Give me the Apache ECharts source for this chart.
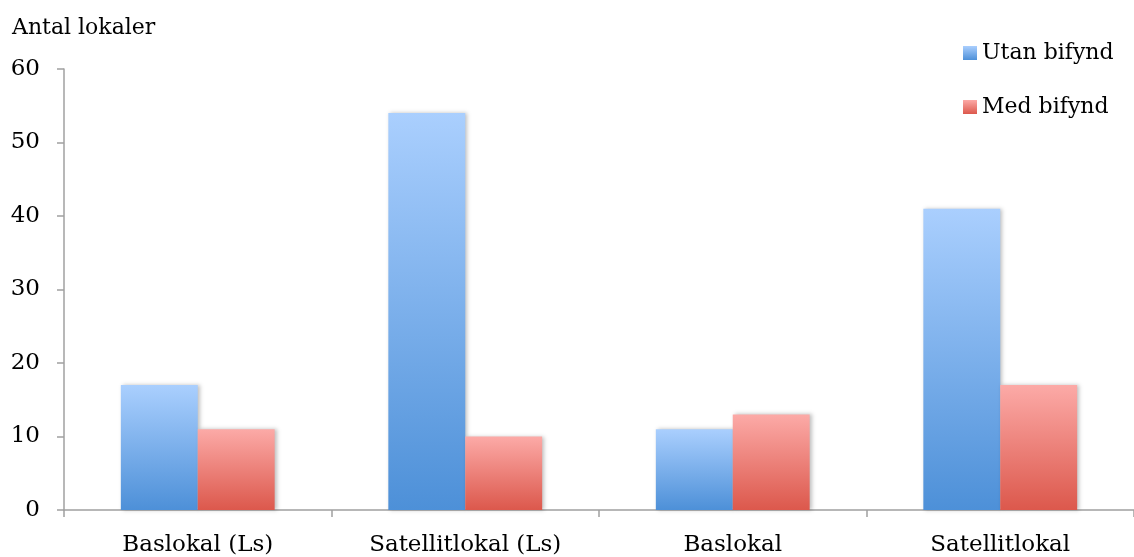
<!DOCTYPE html>
<html><head><meta charset="utf-8">
<script src="https://cdn.jsdelivr.net/npm/echarts@6/dist/echarts.min.js"></script>
<style>html,body{margin:0;padding:0;background:#fff}#c{width:1134px;height:557px}</style>
</head><body><div id="c"></div>
<script>
const categories = ['Baslokal (Ls)', 'Satellitlokal (Ls)', 'Baslokal', 'Satellitlokal'];
const utanBifynd = [17, 54, 11, 41];
const medBifynd = [11, 10, 13, 17];
const seriesNames = ['Utan bifynd', 'Med bifynd'];
const yTitle = 'Antal lokaler';

const FONT = '"DejaVu Serif", "Liberation Serif", serif';
function grad(top, bottom) {
  return new echarts.graphic.LinearGradient(0, 0, 0, 1, [{offset: 0, color: top}, {offset: 1, color: bottom}]);
}
const chart = echarts.init(document.getElementById('c'));
chart.setOption({
  animation: false,
  textStyle: {fontFamily: FONT, color: '#000'},
  grid: {left: 64, right: 0, top: 69, bottom: 47},
  legend: {
    orient: 'vertical', left: 963, top: 42, padding: 0, icon: 'rect', itemWidth: 14, itemHeight: 14, itemGap: 32,
    textStyle: {fontFamily: FONT, fontSize: 22, color: '#000'},
    data: seriesNames
  },
  xAxis: {
    type: 'category', data: categories,
    axisLine: {lineStyle: {color: '#a0a0a0', width: 1.5}},
    axisTick: {show: true, length: 7, lineStyle: {color: '#a0a0a0', width: 1.5}},
    axisLabel: {fontFamily: FONT, fontSize: 23, color: '#000', margin: 24}
  },
  yAxis: {
    type: 'value', min: 0, max: 60, interval: 10,
    name: yTitle, nameLocation: 'end', nameGap: 30,
    nameTextStyle: {fontFamily: FONT, fontSize: 22, color: '#000', align: 'left', padding: [0, 0, 0, -52]},
    axisLine: {show: true, lineStyle: {color: '#a0a0a0', width: 1.5}},
    axisTick: {show: true, length: 7, lineStyle: {color: '#a0a0a0', width: 1.5}},
    splitLine: {show: false},
    axisLabel: {fontFamily: FONT, fontSize: 23, color: '#000', margin: 24}
  },
  series: [
    {name: seriesNames[0], type: 'bar', data: utanBifynd, barGap: '0%', barCategoryGap: '42.5%',
     itemStyle: {color: grad('#aacffe', '#4d90d8'), shadowColor: 'rgba(0,0,0,0.25)', shadowBlur: 4, shadowOffsetX: 2}},
    {name: seriesNames[1], type: 'bar', data: medBifynd, barGap: '0%', barCategoryGap: '42.5%',
     itemStyle: {color: grad('#fcaaa7', '#dc584c'), shadowColor: 'rgba(0,0,0,0.25)', shadowBlur: 4, shadowOffsetX: 2}}
  ]
});
</script></body></html>
